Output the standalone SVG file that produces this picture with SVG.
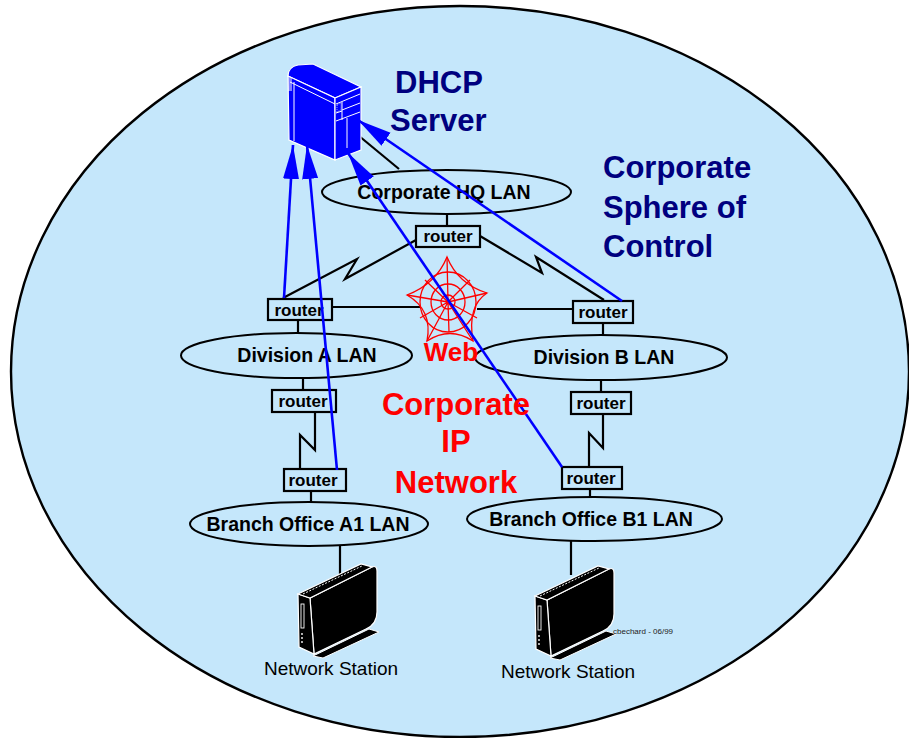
<svg xmlns="http://www.w3.org/2000/svg" width="909" height="738" viewBox="0 0 909 738">
  <defs>
    <style>
      .lan { fill: #C5E7FB; stroke: #000; stroke-width: 2; }
      .rtr { fill: #C5E7FB; stroke: #000; stroke-width: 2.2; }
      .lanTxt { font-family: "Liberation Sans", Arial, sans-serif; font-weight: bold; font-size: 19.5px; fill: #000; text-anchor: middle; }
      .rtrTxt { font-family: "Liberation Sans", Arial, sans-serif; font-weight: bold; font-size: 17px; fill: #000; text-anchor: middle; }
      .navy { font-family: "Liberation Sans", Arial, sans-serif; font-weight: bold; font-size: 31px; fill: #00007F; }
      .red { font-family: "Liberation Sans", Arial, sans-serif; font-weight: bold; font-size: 31px; fill: #FF0000; text-anchor: middle; }
      .wire { fill: none; stroke: #000; stroke-width: 2.2; }
      .dhcp { fill: none; stroke: #0000FF; stroke-width: 2.6; marker-end: url(#arrow); }
      .nsTxt { font-family: "Liberation Sans", Arial, sans-serif; font-size: 19px; fill: #000; text-anchor: middle; }
      .web { fill: none; stroke: #FF0000; stroke-width: 1.3; }
      .srvLine { fill: none; stroke: #FFF; stroke-width: 1; }
    </style>
    <marker id="arrow" markerUnits="userSpaceOnUse" markerWidth="36" markerHeight="18" refX="34" refY="8" orient="auto">
      <path d="M0,0 L34,8 L0,16 Z" fill="#0000FF"/>
    </marker>
    <!-- desktop network station -->
    <g id="station">
      <path d="M310,598 L372,567 Q377,565 377,571 L377,612 Q377,624 366,629 L314,654 Z" fill="#000" stroke="#FFF" stroke-width="1.2"/>
      <path d="M298,594 L310,598 L314,654 L299,647 Z" fill="#000" stroke="#FFF" stroke-width="1.2"/>
      <path d="M298,594 L361,564 L372,567 L310,598 Z" fill="#000" stroke="#FFF" stroke-width="1.2"/>
      <path d="M303,594 L362,566" stroke="#FFF" stroke-width="1" stroke-dasharray="2,1.5"/>
      <path d="M313,656 L369,629 L379,632 L323,658 Z" fill="#000" stroke="#FFF" stroke-width="1"/>
      <rect x="301" y="604" width="3" height="24" fill="#000" stroke="#FFF" stroke-width="0.9"/>
      <circle cx="302" cy="634" r="0.9" fill="#FFF"/>
      <circle cx="302" cy="638" r="0.9" fill="#FFF"/>
      <circle cx="302" cy="642" r="0.9" fill="#FFF"/>
    </g>
  </defs>

  <!-- corporate sphere -->
  <ellipse cx="460" cy="371.5" rx="449" ry="365.5" fill="#C5E7FB" stroke="#000" stroke-width="2.4"/>

  <!-- links -->
  <g id="connectors">
    <path class="wire" d="M353,131 L399,169"/>
    <path class="wire" d="M447,214 L447,226"/>
    <path class="wire" d="M416,240 L345,279 L357,259 L283,298"/>
    <path class="wire" d="M480,236 L542,273 L536,257 L604,300"/>
    <path class="wire" d="M332,307 L421,307"/>
    <path class="wire" d="M477,309 L573,309"/>
    <path class="wire" d="M298,320 L298,333"/>
    <path class="wire" d="M603,323 L603,335"/>
    <path class="wire" d="M303,378 L303,390"/>
    <path class="wire" d="M601,380 L601,392"/>
    <path class="wire" d="M315,412 L315,450 L300,435 L300,469"/>
    <path class="wire" d="M603,414 L603,448 L589,433 L589,467"/>
    <path class="wire" d="M311,491 L311,502"/>
    <path class="wire" d="M590,489 L590,497"/>
    <path class="wire" d="M340,546 L340,575"/>
    <path class="wire" d="M571,541 L571,575"/>
  </g>

  <!-- DHCP server tower -->
  <g id="dhcp-server">
    <path d="M288,76 Q288,67 298,65 L313,64 L361,87 L335,98 Z" fill="#0000FF" stroke="#FFF" stroke-width="1.2"/>
    <path d="M288,76 L335,98 L335,160 L289,140 Z" fill="#0000FF" stroke="#FFF" stroke-width="1.2"/>
    <path d="M335,98 L361,87 L361,150 L335,160 Z" fill="#0000FF" stroke="#FFF" stroke-width="1.2"/>
    <path class="srvLine" d="M290,82 L335,104"/>
    <path class="srvLine" d="M294,82 L294,141"/>
    <path class="srvLine" d="M288,78 h4 M288,80 h4 M288,82 h4 M288,84 h4 M288,86 h4 M288,88 h4 M288,90 h4"/>
    <path class="srvLine" d="M336,104 L360,94"/>
    <path class="srvLine" d="M336,121 L360,112"/>
    <path class="srvLine" d="M342,102 L342,120"/>
    <path class="srvLine" d="M342,110 L360,103"/>
    <path class="srvLine" d="M336,113 L342,111"/>
    <path class="srvLine" d="M347,118 L347,148"/>
    <path d="M337,105 L341,103 L341,110 L337,112 Z" fill="none" stroke="#FFF" stroke-width="0.6" stroke-dasharray="1,1"/>
  </g>

  <!-- LAN segments -->
  <g id="hq-lan">
    <ellipse class="lan" cx="446.5" cy="192" rx="124.5" ry="22"/>
    <text class="lanTxt" x="444" y="199">Corporate HQ LAN</text>
  </g>
  <g id="division-a-lan">
    <ellipse class="lan" cx="296.5" cy="355.5" rx="115.5" ry="22.5"/>
    <text class="lanTxt" x="307" y="362">Division A LAN</text>
  </g>
  <g id="division-b-lan">
    <ellipse class="lan" cx="601" cy="357.5" rx="126" ry="22.5"/>
    <text class="lanTxt" x="604" y="364">Division B LAN</text>
  </g>
  <g id="branch-a1-lan">
    <ellipse class="lan" cx="309" cy="524" rx="119" ry="22"/>
    <text class="lanTxt" x="308" y="531">Branch Office A1 LAN</text>
  </g>
  <g id="branch-b1-lan">
    <ellipse class="lan" cx="594.5" cy="519" rx="127.5" ry="22"/>
    <text class="lanTxt" x="591" y="526">Branch Office B1 LAN</text>
  </g>

  <!-- routers -->
  <g id="router-hq"><rect class="rtr" x="416" y="226" width="64" height="21"/><text class="rtrTxt" x="448" y="242">router</text></g>
  <g id="router-a"><rect class="rtr" x="268" y="299" width="64" height="21"/><text class="rtrTxt" x="299" y="316">router</text></g>
  <g id="router-b"><rect class="rtr" x="573" y="301" width="60" height="22"/><text class="rtrTxt" x="603" y="318">router</text></g>
  <g id="router-a-low"><rect class="rtr" x="272" y="390" width="64" height="22"/><text class="rtrTxt" x="303" y="407">router</text></g>
  <g id="router-b-low"><rect class="rtr" x="571" y="392" width="60" height="22"/><text class="rtrTxt" x="601" y="409">router</text></g>
  <g id="router-a1"><rect class="rtr" x="284" y="469" width="62" height="22"/><text class="rtrTxt" x="313" y="486">router</text></g>
  <g id="router-b1"><rect class="rtr" x="562" y="467" width="60" height="22"/><text class="rtrTxt" x="591" y="484">router</text></g>

  <!-- web cloud -->
  <g id="web">
    <path class="web" d="M447,257 Q458,284 487,293 Q467,306 473,341 Q450,326 427,341 Q433,310 407,295 Q436,284 447,257 Z"/>
    <circle class="web" cx="448" cy="302" r="7"/>
    <ellipse class="web" cx="448" cy="302" rx="17" ry="18"/>
    <ellipse class="web" cx="448" cy="302" rx="28" ry="30"/>
    <path class="web" d="M448,302 L447,257 M448,302 L487,293 M448,302 L473,341 M448,302 L427,341 M448,302 L407,295 M448,302 L470,280 M448,302 L477,318 M448,302 L449,332 M448,302 L420,318 M448,302 L425,280"/>
    <text x="451" y="361" font-family="Liberation Sans, Arial, sans-serif" font-weight="bold" font-size="26" fill="#FF0000" text-anchor="middle">Web</text>
  </g>

  <!-- network stations -->
  <g id="station-a">
    <use href="#station"/>
    <text class="nsTxt" x="331" y="675">Network Station</text>
  </g>
  <g id="station-b">
    <use href="#station" transform="translate(237,2)"/>
    <text class="nsTxt" x="568" y="678">Network Station</text>
  </g>

  <!-- DHCP flows -->
  <g id="dhcp-flows">
    <path class="dhcp" d="M284,298 L293,145"/>
    <path class="dhcp" d="M337,470 L307,145"/>
    <path class="dhcp" d="M562,467 L348,153"/>
    <path class="dhcp" d="M622,301 L358,120"/>
  </g>

  <!-- labels -->
  <g id="labels">
    <text class="navy" x="395" y="93">DHCP</text>
    <text class="navy" x="390" y="131">Server</text>
    <text class="navy" x="603" y="178">Corporate</text>
    <text class="navy" x="603" y="218">Sphere of</text>
    <text class="navy" x="603" y="257">Control</text>
    <text class="red" x="456" y="415">Corporate</text>
    <text class="red" x="456" y="452">IP</text>
    <text class="red" x="456" y="493">Network</text>
    <text x="613" y="634" font-family="Liberation Sans, Arial, sans-serif" font-size="8" fill="#222">cbechard - 06/99</text>
  </g>
</svg>
